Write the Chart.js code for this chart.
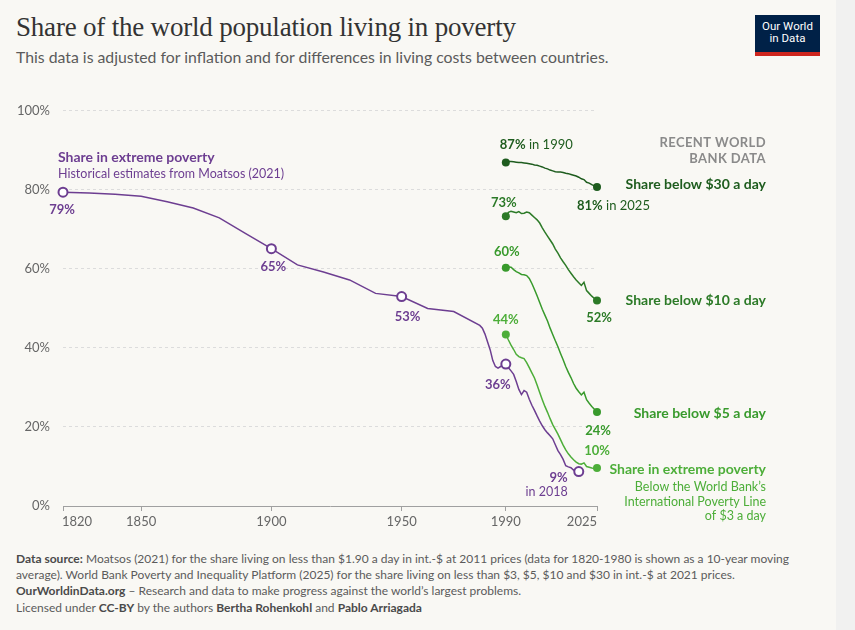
<!DOCTYPE html>
<html>
<head>
<meta charset="utf-8">
<script src="https://cdn.jsdelivr.net/npm/chart.js@4"></script>
<style>
  body { margin: 0; background: #f1f1f0; font-family: Lato, sans-serif; }
  #card { position: absolute; left: 0; top: 0; width: 836px; height: 630px; background: #f9f8f4; }
  #title { position: absolute; left: 16px; top: 12px; font-family: "Liberation Serif", serif; font-size: 27px; color: #333; letter-spacing: -0.2px; }
  #subtitle { position: absolute; left: 16px; top: 47px; font-size: 15.8px; color: #5b5b5b; }
  #logo { position: absolute; left: 755px; top: 15px; width: 65px; height: 32px; background: #002147; border-bottom: 4px solid #ce261e;
          color: #fff; font-family: "Liberation Sans Narrow", "Roboto", sans-serif; font-size: 11.5px; line-height: 12px; text-align: center; padding-top: 5px; box-sizing: content-box; }
  #wrap { position: absolute; left: 0; top: 90px; width: 836px; height: 450px; }
  #footer { position: absolute; left: 16px; top: 551px; width: 780px; font-size: 12px; color: #5b5b5b; line-height: 15.5px; }
  #footer b { font-weight: 700; color: #4a4a4a; }
  #footer p { margin: 0; }
</style>
</head>
<body>
<div id="card">
  <div id="title">Share of the world population living in poverty</div>
  <div id="subtitle">This data is adjusted for inflation and for differences in living costs between countries.</div>
  <div id="logo">Our World<br>in Data</div>
  <div id="wrap"><canvas id="chart" width="836" height="450"></canvas></div>
  <div id="footer">
    <p><b>Data source:</b> Moatsos (2021) for the share living on less than $1.90 a day in int.-$ at 2011 prices (data for 1820-1980 is shown as a 10-year moving average). World Bank Poverty and Inequality Platform (2025) for the share living on less than $3, $5, $10 and $30 in int.-$ at 2021 prices.</p>
    <p style="margin-top:1px"><b>OurWorldinData.org</b> – Research and data to make progress against the world’s largest problems.</p>
    <p style="margin-top:1px">Licensed under <b>CC-BY</b> by the authors <b>Bertha Rohenkohl</b> and <b>Pablo Arriagada</b></p>
  </div>
</div>
<script>
const xTicks = [1820, 1850, 1900, 1950, 1990, 2025];
const yTicks = [0, 20, 40, 60, 80, 100];

// Moatsos (2021), share below $1.90 a day
const moatsosYears = [1820, 1830, 1840, 1850, 1860, 1870, 1880, 1890, 1900, 1910, 1920, 1930, 1940, 1950, 1960, 1970, 1980,
  1981, 1982, 1983, 1984, 1985, 1986, 1987, 1988, 1989, 1990, 1991, 1992, 1993, 1994, 1995, 1996, 1997, 1998, 1999,
  2000, 2001, 2002, 2003, 2004, 2005, 2006, 2007, 2008, 2009, 2010, 2011, 2012, 2013, 2014, 2015, 2016, 2017, 2018];
const moatsosShare = [79.4, 79.2, 78.9, 78.4, 77.0, 75.4, 72.9, 69.0, 65.1, 61.0, 59.2, 57.2, 53.8, 53.0, 50.0, 49.2, 45.7,
  45.0, 43.5, 41.5, 39.5, 36.8, 35.3, 34.9, 35.3, 35.7, 35.9, 35.0, 34.2, 33.3, 31.5, 29.5, 28.2, 29.2, 28.8, 27.0,
  25.5, 24.2, 22.8, 21.5, 20.3, 19.3, 18.5, 17.8, 17.0, 15.5, 14.0, 13.0, 11.8, 10.2, 9.9, 9.7, 9.1, 9.3, 8.7];
const moatsosMarked = [1820, 1900, 1950, 1990, 2018];

// World Bank PIP (2025)
const wbYears = [1990, 1991, 1992, 1993, 1994, 1995, 1996, 1997, 1998, 1999, 2000, 2001, 2002, 2003, 2004, 2005, 2006, 2007,
  2008, 2009, 2010, 2011, 2012, 2013, 2014, 2015, 2016, 2017, 2018, 2019, 2020, 2021, 2022, 2023, 2024, 2025];
const below30 = [86.9, 87.2, 87.2, 87.1, 87.0, 86.9, 86.9, 86.8, 86.7, 86.6, 86.5, 86.3, 86.2, 86.0, 85.8, 85.5, 85.3, 85.0,
  84.8, 84.6, 84.5, 84.5, 84.4, 84.2, 84.1, 83.9, 83.7, 83.5, 83.2, 82.8, 82.6, 81.9, 81.7, 81.3, 81.0, 80.7];
const below10 = [73.3, 74.3, 74.6, 74.4, 74.2, 74.5, 74.0, 74.1, 74.4, 74.2, 73.6, 73.0, 72.4, 71.6, 70.4, 69.3, 68.3, 67.3,
  66.3, 65.0, 64.0, 62.8, 61.8, 60.9, 59.8, 58.9, 58.0, 57.2, 56.5, 55.8, 56.6, 54.5, 53.8, 53.1, 52.5, 52.0];
const below5 = [60.3, 60.5, 60.4, 59.8, 59.3, 59.0, 58.6, 58.5, 58.3, 57.6, 56.3, 54.8, 53.2, 51.5, 49.8, 48.3, 46.8, 45.0,
  43.4, 41.8, 40.3, 38.6, 37.0, 35.3, 33.8, 32.5, 31.0, 29.8, 28.9, 28.1, 28.8, 26.9, 26.0, 25.2, 24.5, 23.8];
const below3 = [43.4, 42.0, 40.7, 39.6, 38.4, 37.8, 37.5, 37.3, 36.3, 35.0, 33.7, 32.4, 30.6, 28.7, 26.9, 25.2, 23.7, 22.1,
  20.6, 19.4, 18.2, 16.8, 15.4, 14.2, 13.2, 12.4, 11.7, 11.1, 10.7, 10.6, 10.9, 10.0, 9.8, 9.6, 9.5, 9.6];

const purple = '#6d3e91';
const green30 = '#1e5c1e', green10 = '#2c7a27', green5 = '#389a2c', green3 = '#4dae39';

const pts = (xs, ys) => xs.map((x, i) => ({ x: x, y: ys[i] }));

function wbSet(vals, color) {
  const n = vals.length;
  return {
    data: pts(wbYears, vals), borderColor: color, backgroundColor: color, borderWidth: 1.5,
    pointRadius: c => (c.dataIndex === 0 || c.dataIndex === n - 1) ? 4 : 0,
    pointBorderWidth: 0, pointHoverRadius: 0, tension: 0, clip: false
  };
}

function parts(ctx, list, x, y, align, color) {
  let w = 0;
  list.forEach(p => { ctx.font = p[1] + ' ' + p[2] + 'px Lato'; w += ctx.measureText(p[0]).width; });
  let sx = align === 'center' ? x - w / 2 : align === 'right' ? x - w : x;
  ctx.fillStyle = color;
  ctx.textAlign = 'left';
  ctx.textBaseline = 'middle';
  list.forEach(p => { ctx.font = p[1] + ' ' + p[2] + 'px Lato'; ctx.fillText(p[0], sx, y); sx += ctx.measureText(p[0]).width; });
}

const labels = {
  id: 'labels',
  afterDatasetsDraw(chart) {
    const ctx = chart.ctx, xs = chart.scales.x, ys = chart.scales.y, a = chart.chartArea;
    const X = v => xs.getPixelForValue(v), Y = v => ys.getPixelForValue(v);
    const last = arr => arr[arr.length - 1];
    ctx.save();

    // x tick labels (edge labels kept inside)
    ctx.font = '13px Lato'; ctx.fillStyle = '#666'; ctx.textBaseline = 'middle';
    xTicks.forEach((t, i) => {
      ctx.textAlign = i === 0 ? 'left' : i === xTicks.length - 1 ? 'right' : 'center';
      ctx.fillText(String(t), X(t) + (i === 0 ? -1 : 0), a.bottom + 16);
    });

    // purple annotations
    const mv = y => moatsosShare[moatsosYears.indexOf(y)];
    parts(ctx, [['Share in extreme poverty', 'bold', 14]], X(1820) - 5, Y(mv(1820)) - 35, 'left', purple);
    parts(ctx, [['Historical estimates from Moatsos (2021)', 'normal', 12.5]], X(1820) - 5, Y(mv(1820)) - 18, 'left', purple);
    parts(ctx, [['79%', 'bold', 13]], X(1820) - 1, Y(mv(1820)) + 18, 'center', purple);
    parts(ctx, [['65%', 'bold', 13]], X(1900) + 2, Y(mv(1900)) + 18, 'center', purple);
    parts(ctx, [['53%', 'bold', 13]], X(1950) + 6, Y(mv(1950)) + 20, 'center', purple);
    parts(ctx, [['36%', 'bold', 13]], X(1990) - 8, Y(mv(1990)) + 21, 'center', purple);
    parts(ctx, [['9%', 'bold', 13]], X(2018) - 11, Y(mv(2018)) + 6, 'right', purple);
    parts(ctx, [['in 2018', 'normal', 12.5]], X(2018) - 11, Y(mv(2018)) + 20, 'right', purple);

    // green start / end labels
    parts(ctx, [['87%', 'bold', 13], [' in 1990', 'normal', 13]], X(1990) - 6, Y(below30[0]) - 18, 'left', green30);
    parts(ctx, [['81%', 'bold', 13], [' in 2025', 'normal', 13]], X(2025) - 20, Y(last(below30)) + 19, 'left', green30);
    parts(ctx, [['73%', 'bold', 13]], X(1990) - 2, Y(below10[0]) - 14, 'center', green10);
    parts(ctx, [['52%', 'bold', 13]], X(2025) + 2, Y(last(below10)) + 17, 'center', green10);
    parts(ctx, [['60%', 'bold', 13]], X(1990) + 1, Y(below5[0]) - 16, 'center', green5);
    parts(ctx, [['24%', 'bold', 13]], X(2025) + 1, Y(last(below5)) + 19, 'center', green5);
    parts(ctx, [['44%', 'bold', 13]], X(1990), Y(below3[0]) - 15, 'center', green3);
    parts(ctx, [['10%', 'bold', 13]], X(2025), Y(last(below3)) - 17, 'center', green3);

    // right-hand series names
    const rx = a.right + 169;
    ctx.letterSpacing = '0.4px';
    parts(ctx, [['RECENT WORLD', 'bold', 13]], rx, a.top + 32, 'right', '#8a8a8a');
    parts(ctx, [['BANK DATA', 'bold', 13]], rx, a.top + 48, 'right', '#8a8a8a');
    ctx.letterSpacing = '0px';
    parts(ctx, [['Share below $30 a day', 'bold', 14]], rx, Y(last(below30)) - 3, 'right', green30);
    parts(ctx, [['Share below $10 a day', 'bold', 14]], rx, Y(last(below10)), 'right', green10);
    parts(ctx, [['Share below $5 a day', 'bold', 14]], rx, Y(last(below5)) + 2, 'right', green5);
    parts(ctx, [['Share in extreme poverty', 'bold', 14]], rx, Y(last(below3)) + 1, 'right', green3);
    parts(ctx, [['Below the World Bank’s', 'normal', 12.5]], rx, Y(last(below3)) + 19, 'right', green3);
    parts(ctx, [['International Poverty Line', 'normal', 12.5]], rx, Y(last(below3)) + 34, 'right', green3);
    parts(ctx, [['of $3 a day', 'normal', 12.5]], rx, Y(last(below3)) + 48, 'right', green3);
    ctx.restore();
  }
};

new Chart(document.getElementById('chart'), {
  type: 'line',
  data: {
    datasets: [
      wbSet(below30, green30),
      wbSet(below10, green10),
      wbSet(below5, green5),
      wbSet(below3, green3),
      {
        data: pts(moatsosYears, moatsosShare), borderColor: purple, borderWidth: 1.5,
        backgroundColor: '#ffffff', pointBorderColor: purple, pointBorderWidth: 2,
        pointRadius: c => moatsosMarked.includes(moatsosYears[c.dataIndex]) ? 4.5 : 0,
        pointHoverRadius: 0, tension: 0, clip: false
      }
    ]
  },
  options: {
    responsive: false,
    animation: false,
    events: [],
    layout: { padding: { top: 18, right: 239, left: 0, bottom: 0 } },
    plugins: { legend: { display: false }, tooltip: { enabled: false } },
    scales: {
      x: {
        type: 'linear', min: 1820, max: 2025,
        afterBuildTicks: s => { s.ticks = xTicks.map(v => ({ value: v })); },
        afterFit: s => { s.height = 34; },
        ticks: { display: false },
        grid: { drawOnChartArea: false, drawTicks: true, tickLength: 5, color: '#a0a0a0' },
        border: { display: true, color: '#a0a0a0', width: 1 }
      },
      y: {
        min: 0, max: 100,
        afterBuildTicks: s => { s.ticks = yTicks.map(v => ({ value: v })); },
        afterFit: s => { s.width = 63; },
        ticks: { padding: 13, color: '#666', font: { family: 'Lato', size: 13 }, callback: v => v + '%' },
        grid: { drawTicks: false, color: c => c.tick && c.tick.value === 0 ? 'rgba(0,0,0,0)' : '#dcdcdc' },
        border: { display: false, dash: [3, 3] }
      }
    }
  },
  plugins: [labels]
});
</script>
</body>
</html>
